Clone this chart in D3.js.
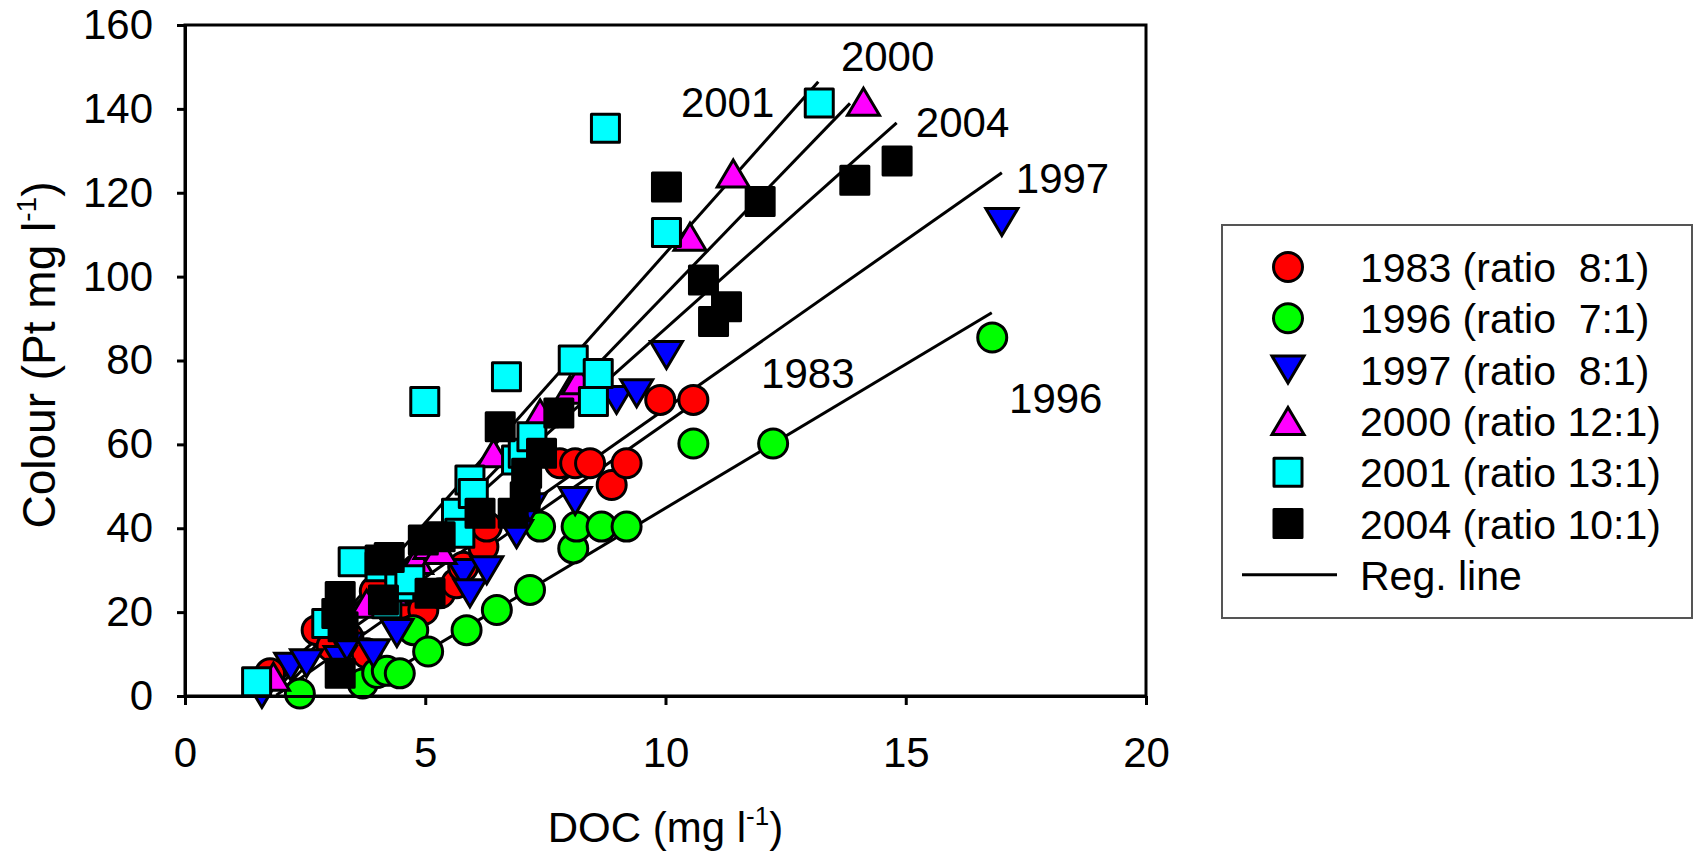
<!DOCTYPE html>
<html>
<head>
<meta charset="utf-8">
<script src="https://cdn.jsdelivr.net/npm/d3@7"></script>
<style>
  html, body { margin: 0; padding: 0; background: #fff; }
  svg { display: block; }
  text { font-family: "Liberation Sans", Arial, sans-serif; fill: #000; }
</style>
</head>
<body>
<svg id="chart" width="1694" height="851"></svg>
<script>
// ---------- data ----------
const years = ["1983", "1996", "1997", "2000", "2001", "2004"];
const legendLabels = ["1983 (ratio  8:1)", "1996 (ratio  7:1)", "1997 (ratio  8:1)",
                      "2000 (ratio 12:1)", "2001 (ratio 13:1)", "2004 (ratio 10:1)"];
const xTicks = [0, 5, 10, 15, 20];
const yTicks = [0, 20, 40, 60, 80, 100, 120, 140, 160];

const doc1983 = [1.77, 2.74, 3.05, 3.4, 3.78, 3.95, 4.5, 4.65, 4.96, 5.31, 5.65, 5.79, 6.21, 6.28, 7.80, 8.12, 8.43, 8.88, 9.19, 9.89, 10.58];
const col1983 = [5.4, 15.7, 11.8, 14, 10.2, 25, 22, 25.5, 20.5, 24.5, 26.9, 30.8, 35.6, 40.4, 55.5, 55.5, 55.5, 50.3, 55.5, 70.6, 70.6];

const doc1996 = [2.39, 3.70, 4.0, 4.2, 4.47, 4.75, 5.06, 5.86, 6.49, 7.18, 7.39, 8.08, 8.15, 8.67, 9.19, 10.58, 12.24, 16.8];
const col1996 = [0.6, 3.0, 5.5, 6.0, 5.4, 15.7, 10.6, 15.7, 20.5, 25.3, 40.4, 35.2, 40.4, 40.4, 40.4, 60.2, 60.2, 85.5];

const doc1997 = [1.6, 2.2, 2.53, 3.23, 3.37, 3.92, 4.41, 5.79, 5.93, 6.28, 6.90, 7.18, 8.12, 8.98, 9.40, 10.02, 17.0];
const col1997 = [0.5, 7, 7.8, 8.6, 11.8, 10.2, 15, 29.3, 24.5, 30, 38.6, 45, 46.5, 70.6, 72.2, 81.3, 113];

const doc2000 = [1.84, 3.78, 4.3, 4.82, 5.1, 5.31, 6.42, 7.39, 8.01, 8.19, 10.51, 11.41, 14.12];
const col2000 = [4.6, 22, 25, 32.4, 36, 34.8, 57.9, 67.4, 73, 75.3, 109.5, 124.6, 141.7];

const doc2001 = [1.49, 2.95, 3.50, 4.06, 4.2, 4.47, 4.68, 4.99, 5.65, 5.72, 5.93, 6.0, 6.69, 6.90, 7.04, 7.22, 8.08, 8.50, 8.60, 8.75, 10.02, 13.2];
const col2001 = [3.4, 17.3, 32.0, 30.8, 22, 26, 27.7, 70.2, 43.6, 38.8, 51.5, 48.3, 76.1, 56.3, 57.9, 61.8, 80.1, 70.2, 76.9, 135.4, 110.5, 141.4];

const doc2004 = [3.23, 3.16, 3.29, 3.23, 4.06, 4.13, 4.25, 4.96, 5.31, 5.10, 6.14, 6.56, 6.83, 7.08, 7.11, 7.42, 7.78, 10.02, 10.79, 11.0, 11.27, 11.97, 13.94, 14.82];
const col2004 = [5.4, 19.7, 16.5, 23.7, 32.4, 22.9, 33, 37.2, 38.0, 24.5, 43.6, 64.2, 43.6, 47.5, 53.1, 57.9, 67.5, 121.4, 99.2, 89.3, 92.8, 117.9, 123, 127.6];

// regression lines: colour = intercept + slope * DOC, drawn between xmin and xmax
const regSlope     = [8.0, 6.86, 8.04, 11.85, 12.86, 10.2];
const regIntercept = [-15.0, -23.8, -11.9, -22.7, -23.0, -14.4];
const regXmin      = [1.9, 3.5, 1.6, 2.0, 1.9, 1.5];
const regXmax      = [10.6, 16.79, 17.0, 13.84, 13.18, 14.81];

// line annotation labels (data coordinates)
const annText = ["2000", "2001", "2004", "1997", "1996", "1983"];
const annX    = [13.65, 10.32, 15.21, 17.29, 17.15, 11.99];
const annY    = [149.1, 138.1, 133.4, 119.9, 67.4, 73.4];

// ---------- styles ----------
const fills  = ["#ff0000", "#00ff00", "#0000ff", "#ff00ff", "#00ffff", "#000000"];
const shapes = ["circle", "circle", "down", "up", "square", "square"];

const series = [
  {x: doc1983, y: col1983}, {x: doc1996, y: col1996}, {x: doc1997, y: col1997},
  {x: doc2000, y: col2000}, {x: doc2001, y: col2001}, {x: doc2004, y: col2004}
];

const svg = d3.select("#chart");
const L = 185, R = 1146, T = 25, B = 696;
const x = d3.scaleLinear().domain([0, 20]).range([L, R]);
const y = d3.scaleLinear().domain([0, 160]).range([B, T]);

// clip for lines
svg.append("defs").append("clipPath").attr("id", "plotclip")
  .append("rect").attr("x", L).attr("y", T).attr("width", R - L).attr("height", B - T);

// frame (top & right)
svg.append("rect").attr("x", L).attr("y", T).attr("width", R - L).attr("height", B - T)
  .attr("fill", "none").attr("stroke", "#000").attr("stroke-width", 3);

// regression lines
const lineG = svg.append("g").attr("clip-path", "url(#plotclip)");
regSlope.forEach((s, i) => {
  const x0 = regXmin[i], x1 = regXmax[i];
  lineG.append("line")
    .attr("x1", x(x0)).attr("y1", y(regIntercept[i] + s * x0))
    .attr("x2", x(x1)).attr("y2", y(regIntercept[i] + s * x1))
    .attr("stroke", "#000").attr("stroke-width", 3);
});

// marker drawing
function marker(g, shape, cx, cy, fill) {
  const sw = 3;
  if (shape === "circle") {
    g.append("circle").attr("cx", cx).attr("cy", cy).attr("r", 14.5)
      .attr("fill", fill).attr("stroke", "#000").attr("stroke-width", sw);
  } else if (shape === "square") {
    const s = 28;
    g.append("rect").attr("x", cx - s / 2).attr("y", cy - s / 2).attr("width", s).attr("height", s)
      .attr("fill", fill).attr("stroke", "#000").attr("stroke-width", sw).attr("stroke-linejoin", "round");
  } else {
    const hw = 16, hh = 13.5;
    const pts = shape === "up"
      ? [[cx, cy - hh], [cx + hw, cy + hh], [cx - hw, cy + hh]]
      : [[cx, cy + hh], [cx + hw, cy - hh], [cx - hw, cy - hh]];
    g.append("path").attr("d", d3.line()(pts) + "Z")
      .attr("fill", fill).attr("stroke", "#000").attr("stroke-width", sw).attr("stroke-linejoin", "miter");
  }
}

const markG = svg.append("g");
series.forEach((s, i) => {
  s.x.forEach((v, j) => marker(markG, shapes[i], x(v), y(s.y[j]), fills[i]));
});

// axes
const fontSize = 42;
const xAxis = svg.append("g").attr("transform", `translate(0,${B})`)
  .call(d3.axisBottom(x).tickValues(xTicks).tickSize(9).tickSizeOuter(0).tickPadding(32).tickFormat(d3.format("d")));
const yAxis = svg.append("g").attr("transform", `translate(${L},0)`)
  .call(d3.axisLeft(y).tickValues(yTicks).tickSize(8).tickSizeOuter(0).tickPadding(24).tickFormat(d3.format("d")));
[xAxis, yAxis].forEach(a => {
  a.select(".domain").attr("stroke", "#000").attr("stroke-width", 3);
  a.selectAll(".tick line").attr("stroke", "#000").attr("stroke-width", 3);
  a.selectAll(".tick text").attr("font-size", fontSize).attr("font-family", "'Liberation Sans', Arial, sans-serif").attr("fill", "#000");
});

// axis titles
const xt = svg.append("text").attr("x", (L + R) / 2).attr("y", 842)
  .attr("text-anchor", "middle").attr("font-size", fontSize);
xt.append("tspan").text("DOC (mg l");
xt.append("tspan").attr("font-size", 26).attr("dy", -17).text("-1");
xt.append("tspan").attr("dy", 17).text(")");

const yt = svg.append("text").attr("transform", `translate(55,355) rotate(-90)`)
  .attr("text-anchor", "middle").attr("font-size", 46);
yt.append("tspan").text("Colour (Pt mg l");
yt.append("tspan").attr("font-size", 28).attr("dy", -19).text("-1");
yt.append("tspan").attr("dy", 19).text(")");

// annotations
annText.forEach((t, i) => {
  svg.append("text").attr("x", x(annX[i])).attr("y", y(annY[i]))
    .attr("font-size", fontSize).text(t);
});

// legend
const lg = svg.append("g");
lg.append("rect").attr("x", 1222).attr("y", 225).attr("width", 470).attr("height", 393)
  .attr("fill", "#fff").attr("stroke", "#555").attr("stroke-width", 2);
const rowY0 = 267, rowStep = 51.3;
years.forEach((yr, i) => {
  const cy = rowY0 + i * rowStep;
  marker(lg, shapes[i], 1288, cy, fills[i]);
  lg.append("text").attr("x", 1360).attr("y", cy + 15).attr("font-size", 41)
    .attr("xml:space", "preserve").style("white-space", "pre").text(legendLabels[i]);
});
const regY = rowY0 + 6 * rowStep;
lg.append("line").attr("x1", 1242).attr("x2", 1337).attr("y1", regY).attr("y2", regY)
  .attr("stroke", "#000").attr("stroke-width", 3);
lg.append("text").attr("x", 1360).attr("y", regY + 15).attr("font-size", 41).text("Reg. line");
</script>
</body>
</html>
